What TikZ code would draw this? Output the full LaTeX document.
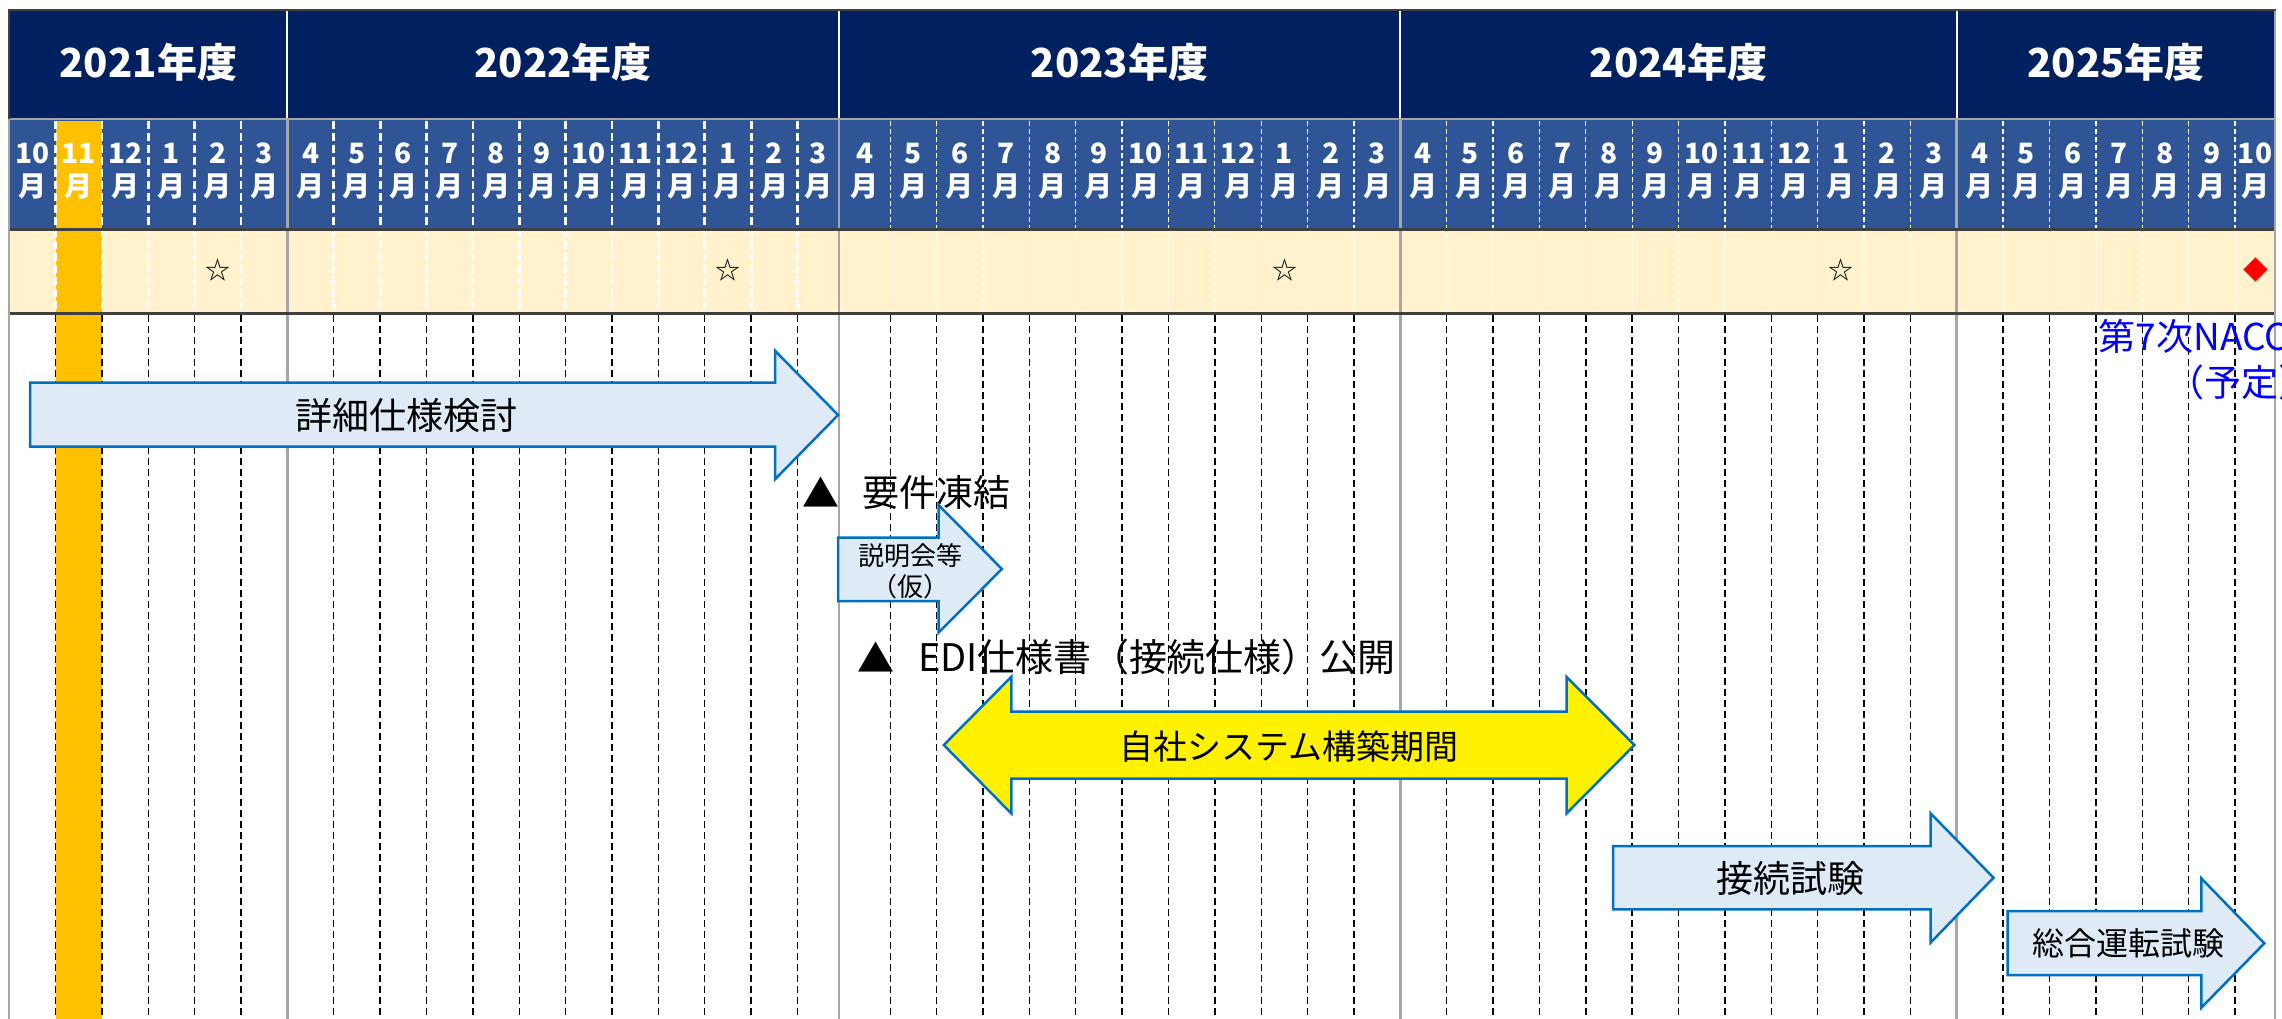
\documentclass[tikz,border=0pt]{standalone}
\usepackage{fontspec}
\setmainfont{Noto Sans CJK JP}
\definecolor{hdr}{HTML}{002060}
\definecolor{mrow}{HTML}{2F5597}
\definecolor{srow}{HTML}{FFF2CC}
\definecolor{orng}{HTML}{FFC000}
\definecolor{afill}{HTML}{DEEBF7}
\definecolor{aline}{HTML}{0070C0}
\definecolor{ygrid}{HTML}{A6A6A6}
\definecolor{dgrid}{HTML}{404040}
\definecolor{bluetxt}{HTML}{0000FF}
\pgfmathdeclarefunction{colx}{1}{%
  \pgfmathparse{ifthenelse(#1==18,839,ifthenelse(#1==49,2275,9.2+46.37*#1))}%
}
\tikzset{
  fs/.style={font=\fontsize{#1}{#1}\selectfont},
  yearlbl/.style={inner sep=0pt, text=white, font=\fontsize{40}{40}\selectfont\bfseries},
  monthlbl/.style={inner sep=0pt, text=white, align=center, font=\fontsize{28}{33}\selectfont\bfseries},
  lbl/.style={inner sep=0pt, text=black},
  arrowshape/.style={fill=afill, draw=aline, line width=2.5pt, line join=miter},
  yarrowshape/.style={fill=yellow, draw=aline, line width=2.5pt, line join=miter},
  wdashthick/.style={white, line width=2.8pt, dash pattern=on 8pt off 4pt},
  wdashthin/.style={white, line width=1.3pt, dash pattern=on 5pt off 3pt},
  bdash/.style={black, line width=1.4pt, dash pattern=on 7pt off 4pt},
}
\begin{document}
\begin{tikzpicture}[x=1pt,y=-1pt]
\useasboundingbox (0,0) rectangle (2282,1019);
\fill[white] (0,0) rectangle (2282,1019);
% bands
\fill[hdr] (9.2,10) rectangle (2275,119);
\fill[mrow] (9.2,119) rectangle (2275,229);
\fill[srow] (9.2,229) rectangle (2275,313);
\fill[orng] (55.5,121) rectangle (101.6,1019);
% month dividers
\foreach \k in {1,2,3,4,5,7,8,9,10,11,12,13,14,15,16,17} {
  \pgfmathsetmacro\xx{colx(\k)}
  \draw[wdashthick] (\xx,121) -- (\xx,312);
  \draw[bdash] (\xx,315) -- (\xx,1019);
}
\foreach \k in {19,20,21,22,23,24,25,26,27,28,29,31,32,33,34,35,36,37,38,39,40,41,43,44,45,46,47,48} {
  \pgfmathsetmacro\xx{colx(\k)}
  \draw[wdashthin] (\xx,121) -- (\xx,312);
  \draw[bdash] (\xx,315) -- (\xx,1019);
}
% year boundaries
\foreach \xx in {287.4,839,1400.3,1956.7} {
  \draw[white, line width=2pt] (\xx,10) -- (\xx,119);
  \draw[ygrid, line width=2.5pt] (\xx,119) -- (\xx,1019);
}
% horizontal rules and frame
\draw[ygrid, line width=2pt] (9.2,119) -- (2275,119);
\draw[dgrid, line width=3pt] (9.2,229) -- (2275,229);
\draw[dgrid, line width=3pt] (9.2,313) -- (2275,313);
\draw[ygrid, line width=2.5pt] (9.2,10) -- (9.2,1019);
\draw[ygrid, line width=2.5pt] (2275,10) -- (2275,1019);
\draw[dgrid, line width=2.5pt] (8,10) -- (2276.2,10);
\draw[dgrid, line width=2pt] (9.2,10) -- (9.2,119);

% year labels
\node[yearlbl] (y2021) at (148.3,62) {2021年度};
\node[yearlbl] (y2022) at (563.2,62) {2022年度};
\node[yearlbl] (y2023) at (1119.6,62) {2023年度};
\node[yearlbl] (y2024) at (1678.5,62) {2024年度};
\node[yearlbl] (y2025) at (2116,62) {2025年度};

% month labels
\foreach \m [count=\c from 0] in {10,11,12,1,2,3,4,5,6,7,8,9,10,11,12,1,2,3,4,5,6,7,8,9,10,11,12,1,2,3,4,5,6,7,8,9,10,11,12,1,2,3,4,5,6,7,8,9,10} {
  \pgfmathsetmacro\xa{colx(\c)}
  \pgfmathsetmacro\xb{colx(\c+1)}
  \node[monthlbl] (m\c) at ({(\xa+\xb)/2},171) {\m\\月};
}

% milestones row
\node[lbl, fs=25] (s1) at (217.6,270) {☆};
\node[lbl, fs=25] (s2) at (727.6,270) {☆};
\node[lbl, fs=25] (s3) at (1284.6,270) {☆};
\node[lbl, fs=25] (s4) at (1841,270) {☆};
\node[lbl, fs=25, text=red] (d1) at (2256,270) {◆};

% blue note (clipped at the picture edge, as in the reference)
\begin{scope}
\clip (0,0) rectangle (2282,1019);
\node[inner sep=0pt, text=bluetxt, align=center, font=\fontsize{37}{46}\selectfont] (nacs) at (2241,360) {第7次NACCS稼働\\（予定）};
\end{scope}

% arrow 1
\draw[arrowshape] (30,382.7) -- (775,382.7) -- (775,350.7) -- (838.1,415) -- (775,479.3) -- (775,446.7) -- (30,446.7) -- cycle;
\node[lbl, fs=37] (a1) at (406,415) {詳細仕様検討};

% milestone 1
\node[lbl, fs=37] (t1) at (821,492) {▲};
\node[lbl, fs=37, anchor=west] (t1l) at (862,492) {要件凍結};

% arrow 2
\draw[arrowshape] (838,537.7) -- (938.5,537.7) -- (938.5,505) -- (1001.9,569) -- (938.5,632.7) -- (938.5,601) -- (838,601) -- cycle;
\node[lbl, align=center, font=\fontsize{26}{31}\selectfont] (a2) at (910,571) {説明会等\\（仮）};

% milestone 2
\node[lbl, fs=37] (t2) at (876,657) {▲};
\node[lbl, fs=38, anchor=west] (t2l) at (918,657) {EDI仕様書（接続仕様）公開};

% yellow double arrow
\draw[yarrowshape] (943.8,745) -- (1011.3,676.8) -- (1011.3,711.7) -- (1566.5,711.7) -- (1566.5,676.8) -- (1634.4,745) -- (1566.5,813.5) -- (1566.5,778.6) -- (1011.3,778.6) -- (1011.3,813.5) -- cycle;
\node[lbl, fs=34] (a3) at (1289,747) {自社システム構築期間};

% arrow 4
\draw[arrowshape] (1613,846) -- (1930.5,846) -- (1930.5,813.3) -- (1993.5,877.7) -- (1930.5,942.7) -- (1930.5,909.3) -- (1613,909.3) -- cycle;
\node[lbl, fs=37] (a4) at (1790,878) {接続試験};

% arrow 5
\draw[arrowshape] (2007.5,911) -- (2201.3,911) -- (2201.3,878.3) -- (2264.3,943.3) -- (2201.3,1007.7) -- (2201.3,975) -- (2007.5,975) -- cycle;
\node[lbl, fs=32] (a5) at (2128,943) {総合運転試験};
\end{tikzpicture}
\end{document}
